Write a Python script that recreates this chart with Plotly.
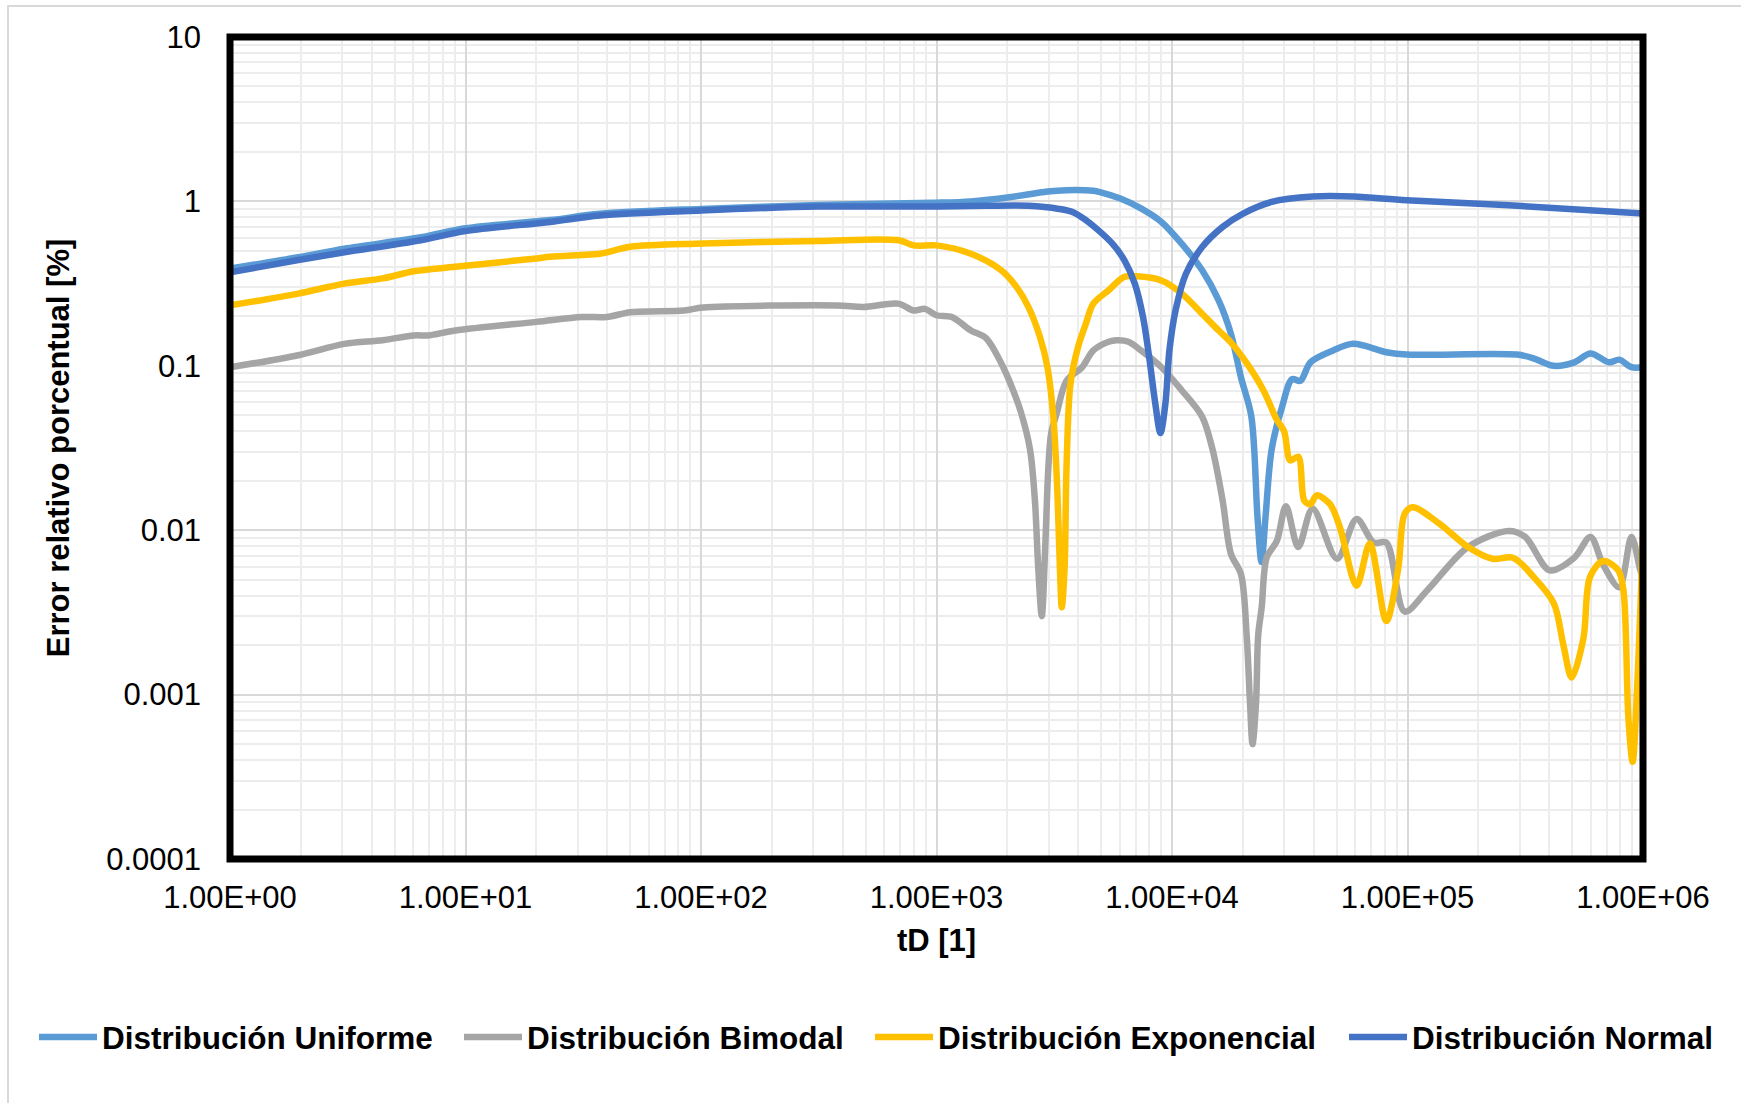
import plotly.graph_objects as go

# ---- data: dimensionless time tD and relative percentage error [%] ----
t_uniforme = [1, 1.95, 3.06, 6.46, 10, 22.9, 37.2, 100, 316, 955, 1400, 2037, 2958, 3565,
              4634, 4943, 6039, 7379, 9016, 10990, 13430, 15780, 17780, 19630, 21730, 23070,
              23990, 24950, 26490, 29310, 32360, 35080, 38730, 48310, 58880, 81280, 99080,
              291700, 342800, 417800, 510500, 598400, 717800, 792500, 893300, 1000000]
e_uniforme = [0.39, 0.457, 0.516, 0.605, 0.687, 0.77, 0.84, 0.90, 0.95, 0.98, 1.0, 1.06, 1.15, 1.17,
              1.16, 1.14, 1.04, 0.906, 0.75, 0.553, 0.381, 0.25, 0.157, 0.085, 0.049, 0.012,
              0.0064, 0.012, 0.031, 0.056, 0.083, 0.081, 0.105, 0.124, 0.136, 0.121, 0.117,
              0.117, 0.111, 0.100, 0.105, 0.119, 0.105, 0.109, 0.098, 0.098]

t_bimodal = [1, 1.95, 3.06, 4.45, 6.03, 6.97, 9.04, 20, 31.2, 39.8, 50.1, 84.7, 102, 378, 490,
             687, 800, 893, 1000, 1161, 1400, 1626, 1888, 2037, 2275, 2495, 2618, 2704, 2799,
             2891, 2985, 3069, 3236, 3565, 4150, 4634, 5383, 5808, 6531, 7379, 9016, 10990,
             13430, 14860, 16410, 17780, 19630, 20750, 21430, 21980, 22750, 23230, 24040,
             25230, 27860, 30480, 34360, 39540, 50230, 60810, 71940, 81280, 97270, 121100,
             180700, 269200, 316200, 401800, 510500, 598400, 676100, 792500, 893300, 968300,
             1000000]
e_bimodal = [0.098, 0.116, 0.136, 0.143, 0.153, 0.153, 0.164, 0.185, 0.198, 0.198, 0.212, 0.217,
             0.226, 0.233, 0.228, 0.239, 0.217, 0.222, 0.203, 0.198, 0.164, 0.147, 0.103, 0.081,
             0.053, 0.031, 0.0151, 0.0059, 0.003, 0.0075, 0.024, 0.039, 0.051, 0.081, 0.098,
             0.124, 0.14, 0.143, 0.14, 0.124, 0.098, 0.071, 0.049, 0.031, 0.0151, 0.0072,
             0.0054, 0.0023, 0.0009, 0.0005, 0.0009, 0.0023, 0.0034, 0.0068, 0.0086, 0.014,
             0.0079, 0.0135, 0.0067, 0.0117, 0.0084, 0.0084, 0.0032, 0.0043, 0.0079, 0.0099,
             0.0091, 0.0057, 0.0068, 0.0091, 0.0062, 0.0045, 0.0091, 0.0059, 0.005]

t_exponencial = [1, 1.95, 3.06, 4.45, 6.03, 9.04, 20, 22.9, 37.2, 39.8, 50.1, 102, 316, 692, 800,
                 1000, 1400, 1888, 2193, 2455, 2748, 2958, 3133, 3251, 3342, 3404, 3499, 3565,
                 3707, 3990, 4305, 4634, 5383, 6252, 7079, 9016, 10990, 13430, 15780, 17780,
                 20840, 24430, 27860, 29920, 31770, 34360, 36480, 38730, 41110, 46880, 51640,
                 60810, 69180, 81280, 91410, 97270, 105200, 136100, 180700, 229100, 280500,
                 342800, 417800, 459200, 497700, 558500, 595700, 677600, 785200, 826000,
                 867000, 903600, 946200, 1000000]
e_exponencial = [0.233, 0.275, 0.316, 0.34, 0.376, 0.40, 0.45, 0.46, 0.48, 0.49, 0.53, 0.555,
                 0.575, 0.58, 0.54, 0.54, 0.48, 0.38, 0.30, 0.228, 0.15, 0.098, 0.049, 0.019,
                 0.0059, 0.0034, 0.0059, 0.024, 0.078, 0.13, 0.18, 0.239, 0.288, 0.347, 0.35,
                 0.33, 0.275, 0.207, 0.164, 0.139, 0.103, 0.071, 0.047, 0.040, 0.0266, 0.028,
                 0.0151, 0.0144, 0.0163, 0.0144, 0.0104, 0.0046, 0.0083, 0.0028, 0.0059, 0.0126,
                 0.0138, 0.011, 0.0079, 0.0067, 0.0068, 0.0052, 0.0036, 0.0020, 0.00127, 0.0022,
                 0.0052, 0.0065, 0.0057, 0.0043, 0.00072, 0.00039, 0.00118, 0.0091]

t_normal = [1, 1.95, 3.06, 6.46, 10, 22.9, 37.2, 100, 316, 955, 1626, 2455, 3311, 3800, 4305,
            4943, 5585, 6281, 6950, 7534, 7998, 8492, 8933, 9376, 9750, 10350, 11460, 13430,
            16410, 20040, 26490, 39540, 58880, 99080, 269200, 1000000]
e_normal = [0.37, 0.44, 0.49, 0.58, 0.66, 0.75, 0.82, 0.88, 0.93, 0.93, 0.94, 0.94, 0.90, 0.86,
            0.77, 0.655, 0.553, 0.438, 0.316, 0.198, 0.113, 0.059, 0.039, 0.059, 0.124, 0.217,
            0.363, 0.528, 0.70, 0.843, 0.993, 1.07, 1.07, 1.016, 0.948, 0.843]

x_ticks = [1, 10, 100, 1000, 10000, 100000, 1000000]
x_labels = ["1.00E+00", "1.00E+01", "1.00E+02", "1.00E+03", "1.00E+04", "1.00E+05", "1.00E+06"]
y_ticks = [0.0001, 0.001, 0.01, 0.1, 1, 10]
y_labels = ["0.0001", "0.001", "0.01", "0.1", "1", "10"]

series = [
    ("Distribución Uniforme", t_uniforme, e_uniforme, "#5B9BD5", "legend"),
    ("Distribución Bimodal", t_bimodal, e_bimodal, "#A5A5A5", "legend2"),
    ("Distribución Exponencial", t_exponencial, e_exponencial, "#FFC000", "legend3"),
    ("Distribución Normal", t_normal, e_normal, "#4472C4", "legend4"),
]

FONT = "Liberation Sans, Arial, sans-serif"
W, H = 1741, 1103
L, R, T, B = 230, 98, 37, 244

fig = go.Figure()
for name, t, e, color, leg in series:
    fig.add_trace(go.Scatter(
        x=t, y=e, name=name, mode="lines", legend=leg,
        line=dict(color=color, width=6.5, shape="spline", smoothing=0.9),
    ))

# minor grid positions (2..9 within each decade)
x_minor = [m * 10 ** k for k in range(0, 6) for m in range(2, 10)]
y_minor = [m * 10.0 ** k for k in range(-4, 1) for m in range(2, 10)]

tick_font = dict(family=FONT, size=31, color="#000000")
title_font = dict(family=FONT, size=31, color="#000000", weight="bold")
legend_font = dict(family=FONT, size=31.5, color="#000000", weight="bold")

fig.update_xaxes(
    type="log", range=[0, 6], tickmode="array", tickvals=x_ticks, ticktext=x_labels,
    showgrid=True, gridcolor="#D9D9D9", gridwidth=2, zeroline=False, showline=False,
    ticks="", tickfont=tick_font, ticklabelstandoff=17,
    minor=dict(tickvals=x_minor, showgrid=True, gridcolor="#EDEDED", gridwidth=1.5, ticks=""),
    title=dict(text="tD [1]", font=title_font, standoff=15),
)
fig.update_yaxes(
    type="log", range=[-4, 1], tickmode="array", tickvals=y_ticks, ticktext=y_labels,
    showgrid=True, gridcolor="#D9D9D9", gridwidth=2, zeroline=False, showline=False,
    ticks="", tickfont=tick_font, ticklabelstandoff=28,
    minor=dict(tickvals=y_minor, showgrid=True, gridcolor="#EDEDED", gridwidth=1.5, ticks=""),
    title=dict(text="Error relativo porcentual [%]", font=title_font, standoff=27),
)

# thick black frame around the plotting area, centred on its edges
fig.add_shape(type="rect", xref="paper", yref="paper", x0=0, y0=0, x1=1, y1=1,
              line=dict(color="#000000", width=7), layer="above")

# light outer border of the chart area
pw, ph = W - L - R, H - T - B
fig.add_shape(type="rect", xref="paper", yref="paper",
              x0=(8 - L) / pw, x1=(W + 20 - L) / pw,
              y0=(H - B - (H + 20)) / ph, y1=(H - B - 6) / ph,
              line=dict(color="#D9D9D9", width=2), layer="below")

def legend_box(x_text):
    return dict(xref="container", yref="container", x=(x_text - 68) / W, y=1 - 1037 / H,
                xanchor="left", yanchor="middle", orientation="h", font=legend_font,
                itemwidth=58, bgcolor="rgba(0,0,0,0)", borderwidth=0)

fig.update_layout(
    width=W, height=H,
    margin=dict(l=L, r=R, t=T, b=B, pad=0),
    paper_bgcolor="#FFFFFF", plot_bgcolor="#FFFFFF",
    font=dict(family=FONT, color="#000000"),
    showlegend=True,
    legend=legend_box(102),
    legend2=legend_box(527),
    legend3=legend_box(938),
    legend4=legend_box(1412),
)

fig.write_html("out.html")
